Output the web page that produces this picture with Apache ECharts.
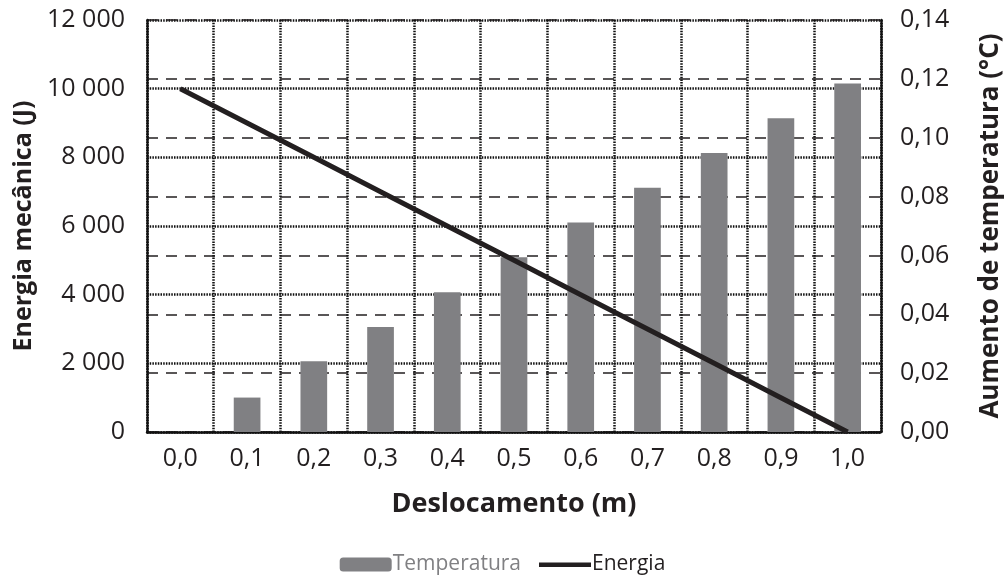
<!DOCTYPE html>
<html>
<head>
<meta charset="utf-8">
<script src="https://cdn.jsdelivr.net/npm/echarts@6/dist/echarts.min.js"></script>
<style>
  html, body { margin: 0; padding: 0; background: #fff; }
  #chart { width: 1005px; height: 586px; }
</style>
</head>
<body>
<div id="chart"></div>
<script>
// deslocamento (m)
const categories = ['0,0', '0,1', '0,2', '0,3', '0,4', '0,5', '0,6', '0,7', '0,8', '0,9', '1,0'];
// aumento de temperatura (°C)
const temperatura = [0, 0.0117, 0.0240, 0.0357, 0.0475, 0.0594, 0.0712, 0.0830, 0.0948, 0.1066, 0.1184];
// energia mecânica (J)
const energia = [10000, 9000, 8000, 7000, 6000, 5000, 4000, 3000, 2000, 1000, 0];

const font = '"Open Sans", sans-serif';
const dark = '#231f20';
const dotted = { color: '#111', width: 2.5, type: [1.5, 1.2] };
const dashed = { color: dark, width: 1.5, type: [11, 8] };

// thin bar with invisible corner specks so the icon keeps its 52x14 box
const lineIcon = 'path://M0,0h0.01v0.01h-0.01z M0,5h52v4.5h-52z M51.99,13.99h0.01v0.01h-0.01z';

const myChart = echarts.init(document.getElementById('chart'));

myChart.setOption({
    animation: false,
    textStyle: { fontFamily: font },
    grid: { left: 147, right: 124, top: 20, bottom: 154, containLabel: false, outerBoundsMode: 'none' },
    legend: {
        bottom: 6,
        left: 'center',
        itemWidth: 52,
        itemHeight: 14,
        itemGap: 18,
        textStyle: { fontFamily: font, fontSize: 21, padding: [0, 0, 0, -4] },
        data: [
            { name: 'Temperatura', textStyle: { color: '#808083' } },
            { name: 'Energia', icon: lineIcon, itemStyle: { color: dark }, textStyle: { color: dark } },
        ],
    },
    xAxis: {
        type: 'category',
        data: categories,
        name: 'Deslocamento (m)',
        nameLocation: 'middle',
        nameGap: 59,
        nameTextStyle: { fontFamily: font, fontSize: 27, fontWeight: 'bold', color: dark },
        axisLine: { show: true, lineStyle: dotted },
        axisTick: { show: false },
        axisLabel: { fontSize: 25, color: dark, margin: 14 },
        splitLine: { show: true, lineStyle: dotted },
    },
    yAxis: [
        {
            type: 'value',
            min: 0,
            max: 12000,
            interval: 2000,
            name: 'Energia mecânica (J)',
            nameLocation: 'middle',
            nameGap: 110,
            nameTextStyle: { fontFamily: font, fontSize: 25, fontWeight: 'bold', color: dark },
            axisLine: { show: true, lineStyle: dotted },
            axisTick: { show: false },
            axisLabel: {
                fontSize: 25,
                color: dark,
                margin: 22,
                formatter: (v) => String(v).replace(/\B(?=(\d{3})+(?!\d))/g, ' '),
            },
            splitLine: { show: true, lineStyle: dotted },
        },
        {
            type: 'value',
            min: 0,
            max: 0.14,
            interval: 0.02,
            name: 'Aumento de temperatura (°C)',
            nameLocation: 'middle',
            nameGap: 97,
            nameRotate: 90,
            nameTextStyle: { fontFamily: font, fontSize: 26, fontWeight: 'bold', color: dark },
            axisLine: { show: true, lineStyle: dotted },
            axisTick: { show: false },
            axisLabel: {
                fontSize: 25,
                color: dark,
                margin: 19,
                formatter: (v) => v.toFixed(2).replace('.', ','),
            },
            splitLine: { show: true, lineStyle: dashed },
        },
    ],
    series: [
        {
            name: 'Temperatura',
            type: 'bar',
            yAxisIndex: 1,
            data: temperatura,
            barWidth: '40%',
            itemStyle: { color: '#808083' },
        },
        {
            name: 'Energia',
            type: 'line',
            yAxisIndex: 0,
            data: energia,
            symbol: 'none',
            lineStyle: { color: dark, width: 5 },
            itemStyle: { color: dark },
        },
    ],
});
</script>
</body>
</html>
